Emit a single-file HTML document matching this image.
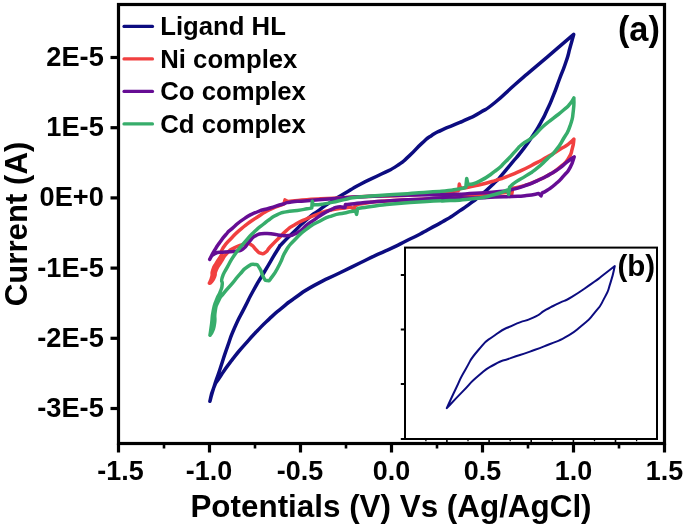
<!DOCTYPE html>
<html><head><meta charset="utf-8"><title>CV</title>
<style>
html,body{margin:0;padding:0;background:#fff;}
body{width:685px;height:527px;overflow:hidden;}
svg{display:block;will-change:transform;transform:translateZ(0);}
text{font-family:"Liberation Sans",sans-serif;font-weight:bold;fill:#000;}
.c{fill:none;stroke-linejoin:round;stroke-linecap:round;}
</style></head><body>
<svg width="685" height="527" viewBox="0 0 685 527">
<rect x="0" y="0" width="685" height="527" fill="#fff"/>
<!-- curves -->
<path class="c" stroke="#0c0c80" stroke-width="3.5" d="M209.9,401.3 C211.1,396.9 210.3,398.8 213.6,388.2 C216.9,377.6 215.3,383.2 219.9,369.5 C224.5,355.8 222.3,361.3 227.3,347.2 C232.3,333.1 229.0,340.6 234.8,327.3 C240.6,314.0 238.5,319.7 244.7,307.4 C250.9,295.1 246.8,302.5 253.4,290.5 C260.0,278.5 256.6,285.0 264.6,271.5 C272.6,258.0 271.5,259.4 277.4,250.0 C283.3,240.6 276.6,249.7 282.4,243.3 C288.2,236.9 286.5,239.0 294.8,230.9 C303.1,222.8 298.9,226.1 307.2,219.1 C315.5,212.1 311.3,215.8 319.6,209.8 C327.9,203.8 323.7,206.5 332.0,201.1 C340.3,195.7 334.9,199.2 344.4,193.6 C353.9,188.0 348.2,190.7 360.4,184.2 C372.6,177.7 368.6,180.4 380.9,174.2 C393.2,168.0 387.7,171.8 397.2,165.6 C406.7,159.4 401.3,163.0 409.5,155.6 C417.7,148.2 414.3,150.2 421.8,143.4 C429.3,136.6 425.2,139.7 432.0,135.2 C438.8,130.7 434.7,133.3 442.2,129.8 C449.7,126.3 446.3,128.2 454.5,124.7 C462.7,121.2 458.3,123.4 466.7,119.4 C475.1,115.4 470.4,118.3 479.8,112.7 C489.2,107.1 483.0,112.2 495.0,102.5 C507.0,92.8 502.0,95.9 515.9,83.7 C529.8,71.5 522.9,77.7 536.8,65.9 C550.7,54.1 545.3,58.7 557.6,48.2 C569.9,37.7 568.3,39.0 573.7,34.4 L573.7,34.4 C572.5,38.6 572.8,38.0 570.2,47.1 C567.6,56.2 569.5,51.3 566.0,61.8 C562.5,72.3 563.9,67.4 559.7,78.5 C555.5,89.6 557.7,84.8 553.5,95.2 C549.3,105.6 551.4,100.8 547.2,109.8 C543.0,118.8 545.8,113.6 540.9,122.3 C536.0,131.0 538.9,126.5 532.6,135.9 C526.3,145.3 529.1,141.5 522.1,150.6 C515.1,159.7 518.6,154.8 511.7,163.1 C504.8,171.4 506.9,169.2 501.3,175.6 C495.7,182.0 501.8,175.8 495.0,182.3 C488.2,188.8 489.3,188.1 481.0,195.2 C472.7,202.3 477.1,198.4 470.0,203.6 C462.9,208.8 467.5,205.6 459.6,210.9 C451.7,216.2 455.2,214.3 446.4,219.6 C437.6,224.9 442.0,222.0 433.1,226.9 C424.2,231.8 428.7,229.6 419.8,234.2 C410.9,238.8 415.3,236.4 406.5,240.8 C397.7,245.2 402.1,243.2 393.3,247.4 C384.5,251.6 390.8,248.4 380.0,253.4 C369.2,258.4 374.2,256.0 360.9,262.5 C347.6,269.0 355.5,265.2 340.0,272.8 C324.5,280.4 329.5,276.9 314.3,285.4 C299.1,293.9 305.2,290.8 294.4,298.3 C283.6,305.8 290.3,301.1 282.0,307.9 C273.7,314.7 277.9,310.9 269.6,318.6 C261.3,326.3 265.4,322.3 257.1,331.0 C248.8,339.7 253.0,335.2 244.7,344.7 C236.4,354.2 240.6,348.8 232.3,359.6 C224.0,370.4 226.1,367.5 219.9,377.0 C213.7,386.5 216.9,380.1 213.6,388.2 C210.3,396.3 211.1,396.9 209.9,401.3"/>
<path class="c" stroke="#f14040" stroke-width="3.5" d="M209.4,283.2 C210.2,281.1 210.7,281.4 211.8,277.0 C212.9,272.6 211.2,274.8 212.8,270.0 C214.4,265.2 213.7,267.6 216.6,262.5 C219.5,257.4 219.4,259.3 221.5,254.6 C223.6,249.9 219.2,254.1 222.8,248.3 C226.4,242.5 225.0,244.6 232.3,237.2 C239.6,229.8 236.4,232.6 244.7,226.0 C253.0,219.4 248.8,222.7 257.1,217.3 C265.4,211.9 260.6,214.3 269.6,209.8 C278.6,205.3 279.2,205.8 284.0,203.8 L285.0,199.9 L288.0,201.6 L288.0,201.6 C294.3,201.0 291.4,200.8 306.8,199.7 C322.2,198.6 314.8,199.2 334.2,198.2 C353.6,197.2 343.1,197.5 365.0,196.6 C386.9,195.7 378.3,196.5 400.0,195.5 C421.7,194.5 412.7,195.0 430.0,193.7 C447.3,192.4 442.4,192.7 452.0,191.6 C461.6,190.5 456.5,190.8 458.7,190.4 L459.3,184.1 L460.5,188.6 L460.5,188.6 C465.3,187.7 463.4,188.6 474.9,185.9 C486.4,183.2 484.1,183.8 495.0,180.6 C505.9,177.4 498.5,179.9 507.5,176.4 C516.5,172.9 512.3,174.7 522.1,170.1 C531.9,165.5 527.7,167.4 536.8,162.6 C545.9,157.8 541.7,160.2 549.3,155.8 C556.9,151.4 553.4,153.3 559.7,149.5 C566.0,145.7 563.4,147.8 568.1,144.3 C572.8,140.8 572.0,140.8 573.9,139.1 L573.9,139.1 C573.4,142.2 574.2,141.9 572.3,148.5 C570.4,155.1 572.3,152.6 568.1,158.9 C563.9,165.2 566.0,162.1 559.7,167.3 C553.4,172.5 556.9,170.1 549.3,174.6 C541.7,179.1 545.2,177.1 536.8,180.8 C528.4,184.5 532.2,183.1 524.2,185.6 C516.2,188.1 516.6,187.3 512.8,188.2 L511.7,194.5 L510.4,191.5 L510.4,191.5 C506.8,192.1 511.5,192.1 499.7,193.3 C487.9,194.5 491.5,194.1 474.9,195.2 C458.3,196.3 461.8,195.7 450.0,196.7 C438.2,197.7 459.5,196.9 439.4,198.3 C419.3,199.7 414.5,199.1 389.7,200.8 C364.9,202.5 376.5,201.6 364.9,203.3 C353.3,205.0 358.3,205.0 355.0,205.8 L354.3,209.6 L351.0,207.2 L351.0,207.2 C348.8,207.5 350.7,207.1 344.4,208.0 C338.1,208.9 340.3,208.0 332.0,209.8 C323.7,211.6 327.9,210.6 319.6,213.5 C311.3,216.4 315.5,214.8 307.2,218.5 C298.9,222.2 301.8,220.6 294.8,224.7 C287.8,228.8 291.9,225.9 286.1,230.9 C280.3,235.9 282.8,234.2 277.4,239.6 C272.0,245.0 273.9,242.8 270.0,247.0 C266.1,251.2 268.8,250.0 265.8,252.1 C262.8,254.2 264.2,254.1 260.9,253.3 C257.6,252.5 259.2,252.5 255.9,249.6 C252.6,246.7 254.6,246.4 250.9,244.6 C247.2,242.8 250.1,243.1 244.7,244.1 C239.3,245.1 240.7,244.6 234.8,247.6 C228.9,250.6 231.5,248.6 227.0,253.2 C222.5,257.8 224.8,255.9 221.2,261.5 C217.6,267.1 218.4,265.0 216.2,270.0 C214.0,275.0 216.2,272.5 214.6,276.5 C213.0,280.5 213.1,279.8 211.4,282.0 C209.7,284.2 210.1,282.8 209.4,283.2"/>
<path class="c" stroke="#660d94" stroke-width="3.5" d="M209.7,259.4 C211.3,256.4 211.1,256.2 214.5,250.5 C217.9,244.8 216.2,247.5 219.9,242.3 C223.6,237.1 221.4,239.7 225.5,235.0 C229.6,230.3 225.9,233.8 232.3,228.3 C238.7,222.8 236.4,223.8 244.7,218.4 C253.0,213.0 248.7,215.5 257.1,212.0 C265.5,208.5 261.6,210.6 270.0,208.0 C278.4,205.4 275.4,206.2 282.4,204.2 C289.4,202.2 282.8,203.2 291.1,202.0 C299.4,200.8 293.6,201.8 307.2,200.7 C320.8,199.6 316.1,200.0 332.0,198.8 C347.9,197.6 338.9,197.9 354.9,197.0 C370.9,196.1 360.1,196.7 380.0,196.0 C399.9,195.3 391.3,195.5 414.6,195.0 C437.9,194.5 429.9,195.1 450.0,194.5 C470.1,193.9 458.3,194.3 474.9,193.3 C491.5,192.3 487.3,192.8 499.7,191.5 C512.1,190.2 503.8,191.4 512.1,189.5 C520.4,187.6 516.3,188.7 524.6,185.8 C532.9,182.9 528.7,184.5 537.0,180.8 C545.3,177.1 542.0,178.7 549.4,174.6 C556.8,170.5 553.5,172.5 559.3,168.4 C565.1,164.3 561.8,166.1 566.8,162.2 C571.8,158.3 571.7,158.6 574.2,156.8 L574.2,156.8 C572.9,160.3 573.6,161.0 570.2,167.3 C566.8,173.6 568.8,170.0 563.9,175.6 C559.0,181.2 561.2,179.1 555.6,184.0 C550.0,188.9 551.7,187.2 547.2,190.2 C542.7,193.2 543.7,192.1 542.0,193.0 L541.0,195.9 L538.8,193.6 L538.8,193.6 C534.6,194.2 535.3,194.5 526.3,195.5 C517.3,196.5 522.1,196.0 511.7,196.5 C501.3,197.0 507.3,196.5 495.0,197.0 C482.7,197.5 489.9,197.6 474.9,197.9 C459.9,198.2 470.1,197.5 450.0,198.0 C429.9,198.5 437.3,198.4 414.6,199.5 C391.9,200.6 399.7,200.1 381.8,201.3 C363.9,202.5 373.0,201.9 360.9,203.0 C348.8,204.1 350.6,204.1 345.4,204.6 L345.0,207.6 L345.0,207.6 C342.7,207.4 342.5,206.4 338.2,206.9 C333.9,207.4 336.1,207.4 332.0,209.2 C327.9,211.0 329.9,210.0 325.8,212.3 C321.7,214.6 323.7,213.3 319.6,216.0 C315.5,218.7 317.5,217.5 313.4,220.4 C309.3,223.3 311.3,221.4 307.2,224.7 C303.1,228.0 305.1,227.2 301.0,230.3 C296.9,233.4 298.9,232.2 294.8,234.0 C290.7,235.8 293.6,235.2 288.6,235.6 C283.6,236.0 284.6,235.6 279.9,235.2 C275.2,234.8 279.5,234.9 274.4,234.3 C269.3,233.7 270.7,233.1 264.5,233.5 C258.3,233.9 260.8,233.0 255.8,235.6 C250.8,238.2 253.7,236.9 249.6,241.2 C245.5,245.5 247.9,245.3 243.4,248.6 C238.9,251.9 242.2,249.9 236.0,251.1 C229.8,252.3 231.8,251.3 224.8,252.1 C217.8,252.9 219.9,251.3 214.9,253.6 C209.9,255.9 211.6,257.2 209.9,259.0"/>
<path class="c" stroke="#37ad6b" stroke-width="3.5" d="M210.0,335.2 C210.5,331.5 210.5,332.1 211.6,324.0 C212.7,315.9 211.6,319.0 213.2,311.0 C214.8,303.0 214.0,306.4 216.4,300.0 C218.8,293.6 218.4,296.9 220.3,291.7 C222.2,286.5 221.6,289.2 222.2,284.5 C222.8,279.8 220.5,283.4 222.2,277.6 C223.9,271.8 223.1,274.9 227.3,267.2 C231.5,259.5 229.0,263.0 234.8,254.6 C240.6,246.2 238.1,249.8 244.7,242.1 C251.3,234.4 248.5,237.4 254.6,231.5 C260.7,225.6 257.9,228.6 263.0,224.5 C268.1,220.4 265.2,222.4 270.0,219.1 C274.8,215.8 272.0,217.0 277.4,214.6 C282.8,212.2 279.5,213.3 286.1,211.9 C292.7,210.5 290.3,211.4 297.3,210.4 C304.3,209.4 302.4,209.6 307.2,208.8 C312.0,208.0 310.3,208.3 311.8,208.0 L312.2,201.3 L313.2,204.9 L313.2,204.9 C316.2,204.7 315.8,205.0 322.1,204.2 C328.4,203.4 324.6,203.9 332.0,202.4 C339.4,200.9 336.8,201.2 344.4,199.6 C352.0,198.0 345.9,198.8 354.9,197.6 C363.9,196.4 355.4,197.3 371.3,196.1 C387.2,194.9 383.0,195.4 402.6,194.0 C422.2,192.6 415.9,192.9 430.0,191.9 C444.1,190.9 435.2,192.0 445.0,191.0 C454.8,190.0 452.4,190.2 459.3,188.9 C466.2,187.6 463.6,187.8 465.8,187.2 L466.7,178.4 L468.0,184.6 L468.0,184.6 C471.7,183.5 470.2,185.9 479.2,181.4 C488.2,176.9 486.3,177.7 495.0,171.2 C503.7,164.7 498.4,168.7 505.4,161.8 C512.4,154.9 510.3,156.4 515.9,150.6 C521.5,144.8 516.5,148.8 522.1,144.3 C527.7,139.8 525.6,142.9 532.6,137.0 C539.6,131.1 536.0,132.8 543.0,126.5 C550.0,120.2 546.5,123.8 553.5,118.2 C560.5,112.6 558.3,114.7 563.9,109.8 C569.5,104.9 566.9,107.6 570.2,103.6 C573.5,99.6 572.7,99.8 573.9,97.9 L573.9,97.9 C573.7,102.2 574.5,101.7 573.3,110.9 C572.1,120.1 573.3,116.5 570.2,125.5 C567.1,134.5 568.8,129.6 563.9,138.0 C559.0,146.4 561.2,143.6 555.6,150.6 C550.0,157.6 553.5,153.0 547.2,158.9 C540.9,164.8 543.8,162.7 536.8,168.3 C529.8,173.9 533.3,171.1 526.3,175.6 C519.3,180.1 521.5,178.1 515.9,181.9 C510.3,185.7 511.7,185.4 509.6,187.1 L508.6,194.5 L507.7,190.0 L507.7,190.0 C503.4,191.5 505.6,191.6 494.7,194.5 C483.8,197.4 489.8,196.6 474.9,198.6 C460.0,200.6 465.0,199.7 450.0,200.6 C435.0,201.5 449.3,200.2 430.0,201.3 C410.7,202.4 411.8,202.3 392.2,204.0 C372.6,205.7 382.8,205.0 371.3,206.5 C359.8,208.0 362.2,207.9 357.7,208.6 L356.6,214.4 L355.5,211.0 L355.5,211.0 C354.5,211.1 356.2,210.6 352.5,211.3 C348.8,212.0 351.2,211.5 344.4,213.0 C337.6,214.5 340.3,213.1 332.0,215.8 C323.7,218.5 327.9,216.9 319.6,221.2 C311.3,225.5 315.5,222.4 307.2,228.6 C298.9,234.8 301.8,232.5 294.8,239.8 C287.8,247.1 291.2,242.3 286.1,250.5 C281.0,258.7 284.2,255.7 279.5,264.5 C274.8,273.3 276.1,271.5 272.0,276.9 C267.9,282.3 270.0,280.6 267.1,280.6 C264.2,280.6 265.8,281.0 263.3,276.9 C260.8,272.8 262.5,272.3 259.6,268.2 C256.7,264.1 258.7,264.9 254.6,264.5 C250.5,264.1 252.2,263.7 247.2,267.0 C242.2,270.3 244.7,268.9 239.7,274.4 C234.7,279.9 237.5,277.3 232.3,283.4 C227.1,289.5 228.7,286.8 224.0,292.8 C219.3,298.8 221.1,295.3 218.2,301.5 C215.3,307.7 216.4,304.1 215.2,311.3 C214.0,318.5 215.5,316.4 214.6,323.0 C213.7,329.6 214.1,326.9 212.6,331.0 C211.1,335.1 210.9,333.8 210.0,335.2"/>
<!-- inset -->
<rect x="405" y="247.6" width="252" height="191.4" fill="#fff" stroke="#000" stroke-width="2"/>
<g stroke="#000" stroke-width="2">
<line x1="400.8" y1="275" x2="405" y2="275"/>
<line x1="400.8" y1="329.5" x2="405" y2="329.5"/>
<line x1="400.8" y1="384" x2="405" y2="384"/>
<line x1="400.8" y1="439" x2="405" y2="439"/>
</g>
<g stroke="#000" stroke-width="1.6">
<line x1="446.9" y1="439" x2="446.9" y2="443"/><line x1="489.1" y1="439" x2="489.1" y2="443"/><line x1="531.2" y1="439" x2="531.2" y2="443"/><line x1="573.4" y1="439" x2="573.4" y2="443"/><line x1="615.5" y1="439" x2="615.5" y2="443"/>
</g>
<g stroke="#000" stroke-width="1.3">
<line x1="425.9" y1="439" x2="425.9" y2="441.2"/><line x1="468.0" y1="439" x2="468.0" y2="441.2"/><line x1="510.2" y1="439" x2="510.2" y2="441.2"/><line x1="552.3" y1="439" x2="552.3" y2="441.2"/><line x1="594.5" y1="439" x2="594.5" y2="441.2"/><line x1="636.6" y1="439" x2="636.6" y2="441.2"/>
</g>
<path class="c" stroke="#0c0c80" stroke-width="2" d="M446.8,408.1 C449.8,401.6 449.6,401.6 455.8,388.7 C462.0,375.8 458.0,382.3 465.5,369.4 C473.0,356.5 468.7,361.3 478.4,350.0 C488.1,338.7 482.7,343.9 494.5,335.5 C506.3,327.1 501.0,330.7 513.9,324.8 C526.8,318.9 522.5,322.7 533.2,317.7 C543.9,312.7 537.5,314.5 546.1,309.7 C554.7,304.9 550.4,307.5 559.0,303.2 C567.6,298.9 561.1,303.2 571.9,296.8 C582.7,290.4 580.5,291.4 591.3,283.9 C602.1,276.4 596.4,280.2 604.2,274.2 C612.0,268.2 611.3,268.7 614.8,266.0 L614.8,266.0 C613.4,271.5 614.1,271.6 610.6,282.4 C607.1,293.2 609.6,288.2 604.2,298.4 C598.8,308.6 602.0,303.8 594.5,312.9 C587.0,322.0 591.3,317.7 581.6,325.8 C571.9,333.9 576.2,331.0 565.5,337.1 C554.8,343.2 561.2,339.4 549.4,344.2 C537.6,349.0 542.9,347.0 530.0,351.6 C517.1,356.2 522.4,353.8 510.6,358.1 C498.8,362.4 505.2,358.6 494.5,364.5 C483.8,370.4 489.1,366.7 478.4,375.8 C467.7,384.9 472.8,381.1 462.3,391.9 C451.8,402.7 452.0,402.7 446.8,408.1"/>
<text x="617.4" y="275.6" font-size="29.5">(b)</text>
<!-- main frame -->
<rect x="118.5" y="4.5" width="546" height="439" fill="none" stroke="#000" stroke-width="3.2"/>
<g stroke="#000" stroke-width="3.2">
<line x1="110.5" y1="57.5" x2="118.5" y2="57.5"/><line x1="110.5" y1="127.7" x2="118.5" y2="127.7"/><line x1="110.5" y1="197.9" x2="118.5" y2="197.9"/><line x1="110.5" y1="268.1" x2="118.5" y2="268.1"/><line x1="110.5" y1="338.3" x2="118.5" y2="338.3"/><line x1="110.5" y1="408.5" x2="118.5" y2="408.5"/>
<line x1="118.5" y1="443.5" x2="118.5" y2="452.5"/><line x1="209.5" y1="443.5" x2="209.5" y2="452.5"/><line x1="300.5" y1="443.5" x2="300.5" y2="452.5"/><line x1="391.5" y1="443.5" x2="391.5" y2="452.5"/><line x1="482.5" y1="443.5" x2="482.5" y2="452.5"/><line x1="573.5" y1="443.5" x2="573.5" y2="452.5"/><line x1="664.5" y1="443.5" x2="664.5" y2="452.5"/>
</g>
<g stroke="#000" stroke-width="2.6">
<line x1="164.0" y1="443.5" x2="164.0" y2="448.5"/><line x1="255.0" y1="443.5" x2="255.0" y2="448.5"/><line x1="346.0" y1="443.5" x2="346.0" y2="448.5"/><line x1="437.0" y1="443.5" x2="437.0" y2="448.5"/><line x1="528.0" y1="443.5" x2="528.0" y2="448.5"/><line x1="619.0" y1="443.5" x2="619.0" y2="448.5"/>
</g>
<!-- y tick labels -->
<g font-size="27.2" text-anchor="end" transform="translate(103.8,0)">
<text x="0" y="66">2E-5</text>
<text x="0" y="136.2">1E-5</text>
<text x="0" y="206.4">0E+0</text>
<text x="0" y="276.6">-1E-5</text>
<text x="0" y="346.8">-2E-5</text>
<text x="0" y="417">-3E-5</text>
</g>
<!-- x tick labels -->
<g font-size="26.9" text-anchor="middle">
<text x="120.5" y="480.1">-1.5</text>
<text x="209" y="480.1">-1.0</text>
<text x="300" y="480.1">-0.5</text>
<text x="391.5" y="480.1">0.0</text>
<text x="482.5" y="480.1">0.5</text>
<text x="573.5" y="480.1">1.0</text>
<text x="664.5" y="480.1">1.5</text>
</g>
<text x="391" y="517" font-size="31.4" text-anchor="middle">Potentials (V) Vs (Ag/AgCl)</text>
<text transform="translate(26.5,224) rotate(-90)" font-size="31.2" text-anchor="middle">Current (A)</text>
<!-- legend -->
<g stroke-width="3.2" stroke-linecap="round">
<line x1="124" y1="26.4" x2="152.5" y2="26.4" stroke="#0c0c80"/>
<line x1="124" y1="58.9" x2="152.5" y2="58.9" stroke="#f14040"/>
<line x1="124" y1="91.4" x2="152.5" y2="91.4" stroke="#660d94"/>
<line x1="124" y1="123.9" x2="152.5" y2="123.9" stroke="#37ad6b"/>
</g>
<g font-size="25.7">
<text x="160.3" y="35.3">Ligand HL</text>
<text x="160.3" y="67.8">Ni complex</text>
<text x="160.3" y="100.3">Co complex</text>
<text x="160.3" y="132.8">Cd complex</text>
</g>
<text x="617.9" y="41.3" font-size="34.3">(a)</text>
</svg>
</body></html>
